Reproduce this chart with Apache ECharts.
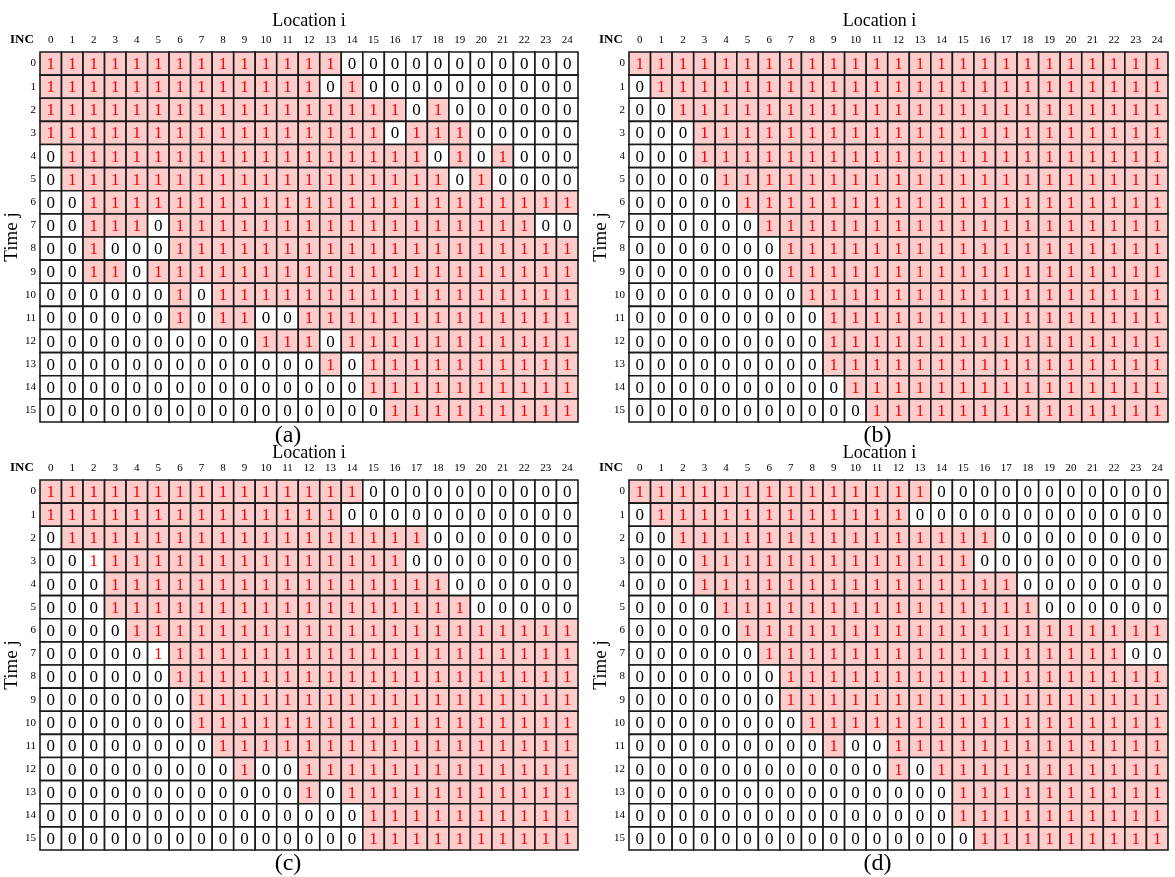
<!DOCTYPE html>
<html>
<head>
<meta charset="utf-8">
<script src="https://cdn.jsdelivr.net/npm/echarts@6/dist/echarts.min.js"></script>
<style>
html,body{margin:0;padding:0;background:#fff;}
#chart{width:1175px;height:877px;}
</style>
</head>
<body>
<div id="chart"></div>
<script>
// Column (location) and row (time) tick labels
const colLabels = ['0','1','2','3','4','5','6','7','8','9','10','11','12','13','14','15','16','17','18','19','20','21','22','23','24'];
const rowLabels = ['0','1','2','3','4','5','6','7','8','9','10','11','12','13','14','15'];
const panelNames = ['(a)','(b)','(c)','(d)'];

// Cell values per row (spaces only group columns by five)
const panelA = [
  '11111 11111 11110 00000 00000',
  '11111 11111 11101 00000 00000',
  '11111 11111 11111 11010 00000',
  '11111 11111 11111 10111 00000',
  '01111 11111 11111 11101 01000',
  '01111 11111 11111 11110 10000',
  '00111 11111 11111 11111 11111',
  '00111 01111 11111 11111 11100',
  '00100 01111 11111 11111 11111',
  '00110 11111 11111 11111 11111',
  '00000 01011 11111 11111 11111',
  '00000 01011 00111 11111 11111',
  '00000 00000 11101 11111 11111',
  '00000 00000 00010 11111 11111',
  '00000 00000 00000 11111 11111',
  '00000 00000 00000 01111 11111'
];
const panelB = [
  '11111 11111 11111 11111 11111',
  '01111 11111 11111 11111 11111',
  '00111 11111 11111 11111 11111',
  '00011 11111 11111 11111 11111',
  '00011 11111 11111 11111 11111',
  '00001 11111 11111 11111 11111',
  '00000 11111 11111 11111 11111',
  '00000 01111 11111 11111 11111',
  '00000 00111 11111 11111 11111',
  '00000 00111 11111 11111 11111',
  '00000 00011 11111 11111 11111',
  '00000 00001 11111 11111 11111',
  '00000 00001 11111 11111 11111',
  '00000 00001 11111 11111 11111',
  '00000 00000 11111 11111 11111',
  '00000 00000 01111 11111 11111'
];
const panelC = [
  '11111 11111 11111 00000 00000',
  '11111 11111 11110 00000 00000',
  '01111 11111 11111 11100 00000',
  '00111 11111 11111 11000 00000',
  '00011 11111 11111 11110 00000',
  '00011 11111 11111 11111 00000',
  '00001 11111 11111 11111 11111',
  '00000 11111 11111 11111 11111',
  '00000 01111 11111 11111 11111',
  '00000 00111 11111 11111 11111',
  '00000 00111 11111 11111 11111',
  '00000 00011 11111 11111 11111',
  '00000 00001 00111 11111 11111',
  '00000 00000 00101 11111 11111',
  '00000 00000 00000 11111 11111',
  '00000 00000 00000 11111 11111'
];
const panelD = [
  '11111 11111 11110 00000 00000',
  '01111 11111 11100 00000 00000',
  '00111 11111 11111 11000 00000',
  '00011 11111 11111 10000 00000',
  '00011 11111 11111 11100 00000',
  '00001 11111 11111 11110 00000',
  '00000 11111 11111 11111 11111',
  '00000 01111 11111 11111 11100',
  '00000 00111 11111 11111 11111',
  '00000 00111 11111 11111 11111',
  '00000 00011 11111 11111 11111',
  '00000 00001 00111 11111 11111',
  '00000 00000 00101 11111 11111',
  '00000 00000 00000 11111 11111',
  '00000 00000 00000 11111 11111',
  '00000 00000 00000 01111 11111'
];
// Cells holding 1 that are drawn without the pink highlight: [column, row]
const unshadedA = [];
const unshadedB = [];
const unshadedC = [[2,3],[5,7]];
const unshadedD = [];

const panels = [panelA, panelB, panelC, panelD];
const unshaded = [unshadedA, unshadedB, unshadedC, unshadedD];

const SERIF = '"Liberation Serif","Times New Roman",serif';
const gridBoxes = [
  {left:40, top:52, width:538, height:370},
  {left:629, top:52, width:539, height:370},
  {left:40, top:480, width:538, height:370},
  {left:629, top:480, width:539, height:370}
];
const nameShift = [0, 38, 0, 38];
const nameGaps = [22, 22, 18, 18];

function buildData(rows, exc){
  const out = [];
  rows.forEach((r, j) => {
    const s = r.replace(/\s+/g,'');
    for (let i = 0; i < s.length; i++) {
      const v = Number(s[i]);
      const isExc = exc.some(e => e[0] === i && e[1] === j);
      out.push([i, j, v, (v === 1 && !isExc) ? 1 : 0]);
    }
  });
  return out;
}

function renderCell(params, api){
  const x = api.value(0), y = api.value(1), v = api.value(2), sh = api.value(3);
  const p = api.coord([x, y]);
  const s = api.size([1, 1]);
  return {
    type:'group',
    children:[
      {type:'rect', shape:{x:p[0]-s[0]/2, y:p[1]-s[1]/2, width:s[0], height:s[1]},
       style:{fill: sh ? '#ffcccc' : '#ffffff', stroke:'#1a1a1a', lineWidth:1.6}},
      {type:'text', style:{text:String(v), x:p[0], y:p[1]+1, align:'center', verticalAlign:'middle',
       fill: v ? '#ff0000' : '#000000', fontSize:17, fontFamily:SERIF}}
    ]
  };
}

const grids = [], xAxes = [], yAxes = [], series = [], graphics = [];
gridBoxes.forEach((g, k) => {
  grids.push(Object.assign({containLabel:false}, g));
  xAxes.push({
    type:'category', gridIndex:k, data:colLabels, position:'top',
    axisLine:{show:false}, axisTick:{show:false}, splitLine:{show:false},
    axisLabel:{fontSize:11, margin:6, color:'#000', fontFamily:SERIF, interval:0},
    name:'Location i', nameLocation:'middle', nameGap:nameGaps[k],
    nameTextStyle:{fontSize:18, color:'#000', fontFamily:SERIF, padding:[0, nameShift[k], 0, 0]}
  });
  yAxes.push({
    type:'category', gridIndex:k, data:rowLabels, inverse:true,
    axisLine:{show:false}, axisTick:{show:false}, splitLine:{show:false},
    axisLabel:{fontSize:11, margin:4, color:'#000', fontFamily:SERIF, interval:0},
    name:'Time j', nameLocation:'middle', nameGap:14, nameRotate:90,
    nameTextStyle:{fontSize:19, color:'#000', fontFamily:SERIF}
  });
  series.push({
    type:'custom', xAxisIndex:k, yAxisIndex:k,
    data: buildData(panels[k], unshaded[k]),
    renderItem: renderCell, silent:true, animation:false
  });
  graphics.push({
    type:'text', left:g.left - 30, top:g.top - 19,
    style:{text:'INC', fontSize:13, fontWeight:'bold', fill:'#000', fontFamily:SERIF}
  });
  graphics.push({
    type:'text', x:g.left + g.width/2 - 21, y:g.top + g.height + 14,
    style:{text:panelNames[k], fontSize:24, fill:'#000', fontFamily:SERIF, align:'center', verticalAlign:'middle'}
  });
});

const chart = echarts.init(document.getElementById('chart'), null, {renderer:'canvas'});
chart.setOption({
  backgroundColor:'#ffffff',
  animation:false,
  grid: grids,
  xAxis: xAxes,
  yAxis: yAxes,
  series: series,
  graphic: graphics
});
</script>
</body>
</html>
